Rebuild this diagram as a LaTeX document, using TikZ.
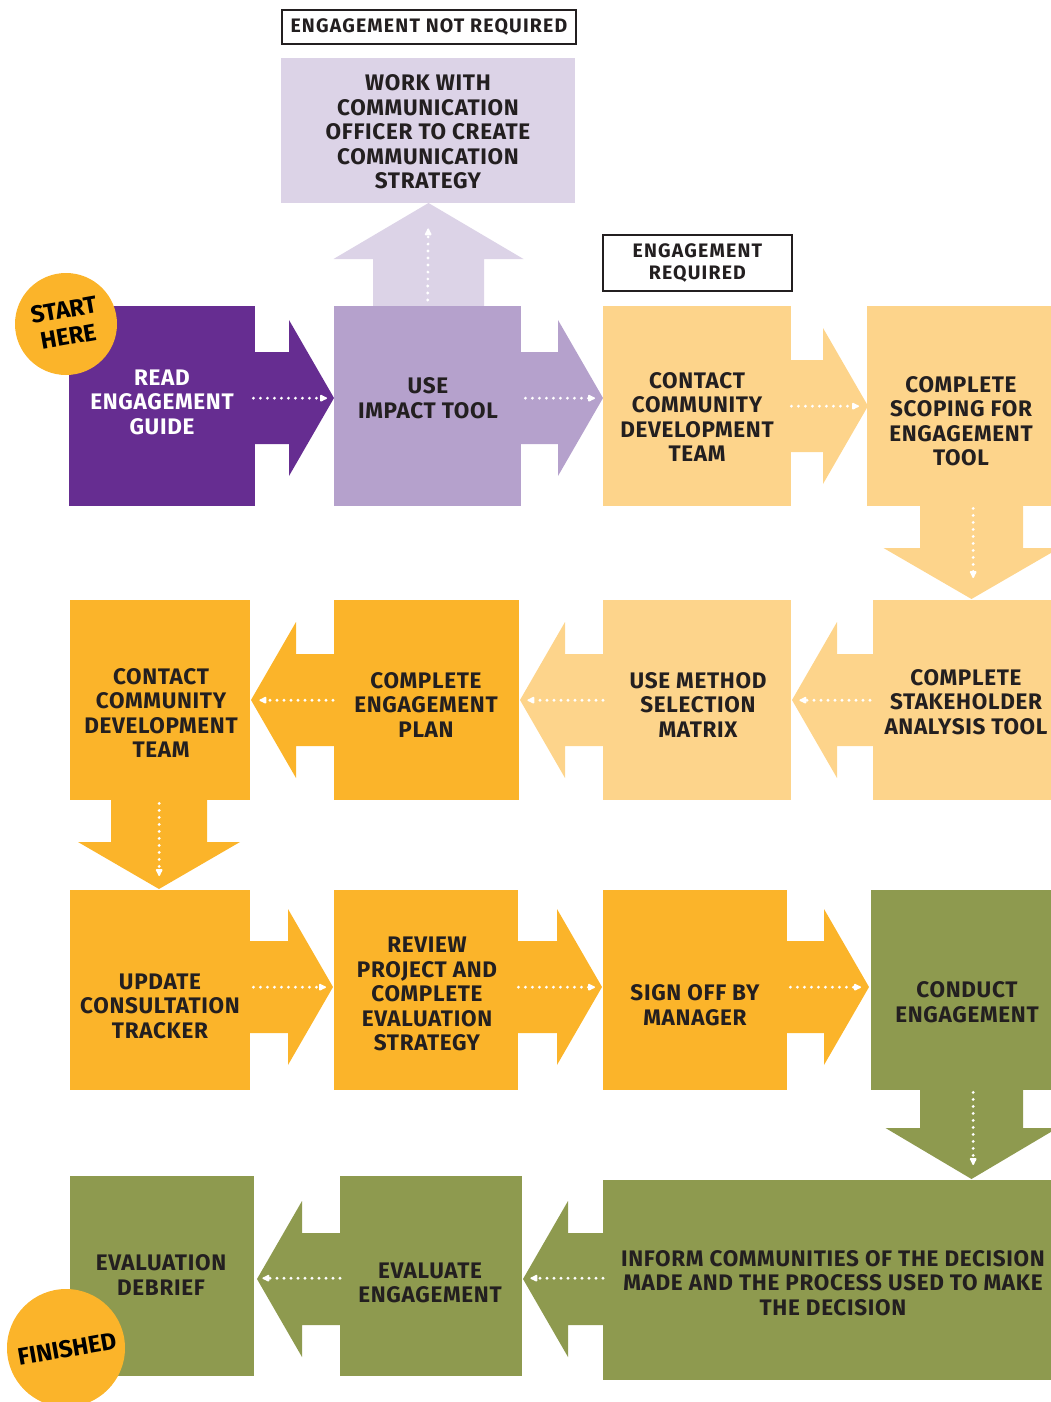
\documentclass[tikz,border=0pt]{standalone}
\usepackage{fontspec}
\setmainfont{Fira Sans}[LetterSpace=3]
\newfontfamily\tagfont{Fira Sans}[LetterSpace=6]
\newfontfamily\badgefont{Fira Sans}
\usetikzlibrary{calc,arrows.meta}

\definecolor{dpurple}{HTML}{662D91}
\definecolor{lav}{HTML}{B5A1CC}
\definecolor{llav}{HTML}{DCD3E7}
\definecolor{lorange}{HTML}{FDD48B}
\definecolor{orange}{HTML}{FBB42A}
\definecolor{green}{HTML}{8E9A4F}
\definecolor{ink}{HTML}{231F20}

% block arrows: start x, tip x, centre y, colour
\newcommand\RArrow[4]{%
  \fill[#4] (#1,#3-46) -- (#2-45,#3-46) -- (#2-45,#3-78) -- (#2,#3)
    -- (#2-45,#3+78) -- (#2-45,#3+46) -- (#1,#3+46) -- cycle;}
\newcommand\LArrow[4]{%
  \fill[#4] (#1,#3-46) -- (#2+45,#3-46) -- (#2+45,#3-78) -- (#2,#3)
    -- (#2+45,#3+78) -- (#2+45,#3+46) -- (#1,#3+46) -- cycle;}
% vertical block arrow: centre x, start y, tip y, colour, shaft half,
% head half, signed head length (positive points down)
\newcommand\VArrow[7]{%
  \fill[#4] ({#1-#5},#2) -- ({#1-#5},{#3-(#7)}) -- ({#1-#6},{#3-(#7)}) -- (#1,#3)
    -- ({#1+#6},{#3-(#7)}) -- ({#1+#5},{#3-(#7)}) -- ({#1+#5},#2) -- cycle;}

\begin{document}
\begin{tikzpicture}[x=1pt,y=-1pt,
  box/.style={fill=#1, draw=none, inner sep=0pt, anchor=north west},
  txt/.style={align=center, inner sep=0pt, text=ink,
    font=\bfseries\fontsize{22.5}{24.5}\selectfont},
  wtxt/.style={txt, text=white},
  tag/.style={draw=ink, line width=1.8pt, fill=white, inner sep=0pt,
    anchor=north west, align=center, text=ink,
    font=\tagfont\bfseries\fontsize{19.5}{22}\selectfont},
  badge/.style={circle, fill=orange, inner sep=0pt, minimum size=#1},
  btxt/.style={align=center, inner sep=0pt, text=black, rotate=10,
    font=\badgefont\bfseries\fontsize{24}{27}\selectfont},
  dotarr/.style={white, line width=3.2pt, line cap=round,
    dash pattern=on 0pt off 7pt,
    -{Latex[length=9pt,width=8.5pt,round]}}]

\useasboundingbox (0,0) rectangle (1051,1402);
\clip (0,0) rectangle (1051,1402);

% block arrows
\RArrow{254}{334}{398}{dpurple}
\RArrow{520}{603}{398}{lav}
\RArrow{790}{868}{406}{lorange}
\VArrow{428.5}{308}{203}{llav}{55.5}{95}{-56}
\VArrow{971.5}{504}{599}{lorange}{51.5}{88}{51}
\LArrow{874}{792}{700}{lorange}
\LArrow{604}{520}{700}{lorange}
\LArrow{335}{251}{700}{orange}
\VArrow{159}{799}{889}{orange}{48}{81}{47}
\RArrow{249}{333}{987}{orange}
\RArrow{517}{602}{987}{orange}
\RArrow{786}{869}{987}{orange}
\VArrow{971.5}{1089}{1179}{green}{51.5}{86}{51}
\LArrow{604}{523}{1279}{green}
\LArrow{341}{257}{1279}{green}

% boxes
\node[box=dpurple, minimum width=186pt, minimum height=200pt] (read) at (69,306) {};
\node[box=lav, minimum width=187pt, minimum height=200pt] (impact) at (334,306) {};
\node[box=llav, minimum width=294pt, minimum height=145pt] (work) at (281,58) {};
\node[box=lorange, minimum width=188pt, minimum height=200pt] (contactA) at (603,306) {};
\node[box=lorange, minimum width=184pt, minimum height=200pt] (scoping) at (867,306) {};
\node[box=lorange, minimum width=178pt, minimum height=200pt] (stake) at (873,600) {};
\node[box=lorange, minimum width=188pt, minimum height=200pt] (method) at (603,600) {};
\node[box=orange, minimum width=185pt, minimum height=200pt] (plan) at (334,600) {};
\node[box=orange, minimum width=180pt, minimum height=200pt] (contactB) at (70,600) {};
\node[box=orange, minimum width=180pt, minimum height=200pt] (update) at (70,890) {};
\node[box=orange, minimum width=184pt, minimum height=200pt] (review) at (334,890) {};
\node[box=orange, minimum width=184pt, minimum height=200pt] (signoff) at (603,890) {};
\node[box=green, minimum width=180pt, minimum height=200pt] (conduct) at (871,890) {};
\node[box=green, minimum width=448pt, minimum height=200pt] (inform) at (603,1180) {};
\node[box=green, minimum width=182pt, minimum height=200pt] (evaluate) at (340,1176) {};
\node[box=green, minimum width=184pt, minimum height=200pt] (debrief) at (70,1176) {};

% tags
\node[tag, minimum width=294pt, minimum height=34pt] (notreq) at (281,9) {ENGAGEMENT NOT REQUIRED};
\node[tag, minimum width=189pt, minimum height=56pt] (req) at (602,234) {ENGAGEMENT\\REQUIRED};

% box texts
\node[wtxt] (readT) at (162,402) {READ\\ENGAGEMENT\\GUIDE};
\node[txt] (impactT) at (428,398) {USE\\IMPACT TOOL};
\node[txt] (workT) at (428,132) {WORK WITH\\COMMUNICATION\\OFFICER TO CREATE\\COMMUNICATION\\STRATEGY};
\node[txt] (contactAT) at (697,417) {CONTACT\\COMMUNITY\\DEVELOPMENT\\TEAM};
\node[txt] (scopingT) at (961,421) {COMPLETE\\SCOPING FOR\\ENGAGEMENT\\TOOL};
\node[txt] (stakeT) at (966,702) {COMPLETE\\STAKEHOLDER\\ANALYSIS TOOL};
\node[txt] (methodT) at (698,705) {USE METHOD\\SELECTION\\MATRIX};
\node[txt] (planT) at (426,705) {COMPLETE\\ENGAGEMENT\\PLAN};
\node[txt] (contactBT) at (161,713) {CONTACT\\COMMUNITY\\DEVELOPMENT\\TEAM};
\node[txt] (updateT) at (160,1006) {UPDATE\\CONSULTATION\\TRACKER};
\node[txt] (reviewT) at (427,994) {REVIEW\\PROJECT AND\\COMPLETE\\EVALUATION\\STRATEGY};
\node[txt] (signoffT) at (695,1005) {SIGN OFF BY\\MANAGER};
\node[txt] (conductT) at (967,1002) {CONDUCT\\ENGAGEMENT};
\node[txt] (informT) at (833,1283) {INFORM COMMUNITIES OF THE DECISION\\MADE AND THE PROCESS USED TO MAKE\\THE DECISION};
\node[txt] (evaluateT) at (430,1283) {EVALUATE\\ENGAGEMENT};
\node[txt] (debriefT) at (161,1275) {EVALUATION\\DEBRIEF};

% dotted connectors
\draw[dotarr] ($(read.east)+(-2,-8)$) -- ($(impact.west)+(-7,-8)$);
\draw[dotarr] ($(impact.east)+(4,-8)$) -- ($(contactA.west)+(-8,-8)$);
\draw[dotarr] ($(impact.north)+(0,-6)$) -- ($(work.south)+(0,25)$);
\draw[dotarr] ($(contactA.east)+(0,0)$) -- ($(scoping.west)+(-8,0)$);
\draw[dotarr] ($(scoping.south)+(14,2)$) -- ($(stake.north)+(11,-22)$);
\draw[dotarr] ($(stake.west)+(-3,0)$) -- ($(method.east)+(8,0)$);
\draw[dotarr] ($(method.west)+(0,0)$) -- ($(plan.east)+(8,0)$);
\draw[dotarr] ($(plan.west)+(-1,0)$) -- ($(contactB.east)+(9,0)$);
\draw[dotarr] ($(contactB.south)+(-1,3)$) -- ($(update.north)+(-1,-14)$);
\draw[dotarr] ($(update.east)+(3,-3)$) -- ($(review.west)+(-8,-3)$);
\draw[dotarr] ($(review.east)+(0,-3)$) -- ($(signoff.west)+(-8,-3)$);
\draw[dotarr] ($(signoff.east)+(3,-3)$) -- ($(conduct.west)+(-10,-3)$);
\draw[dotarr] ($(conduct.south)+(12,2)$) -- ($(inform.north)+(146,-15)$);
\draw[dotarr] ($(inform.west)+(0,-2)$) -- ($(evaluate.east)+(8,2)$);
\draw[dotarr] ($(evaluate.west)+(0,2)$) -- ($(debrief.east)+(8,2)$);

% start and finish badges
\node[badge=102pt] (start) at (66,324) {};
\node[btxt] (startT) at (66,323) {START\\HERE};
\node[badge=118pt] (finish) at (66,1348) {};
\node[btxt] (finishT) at (67,1349) {FINISHED};
\end{tikzpicture}
\end{document}
